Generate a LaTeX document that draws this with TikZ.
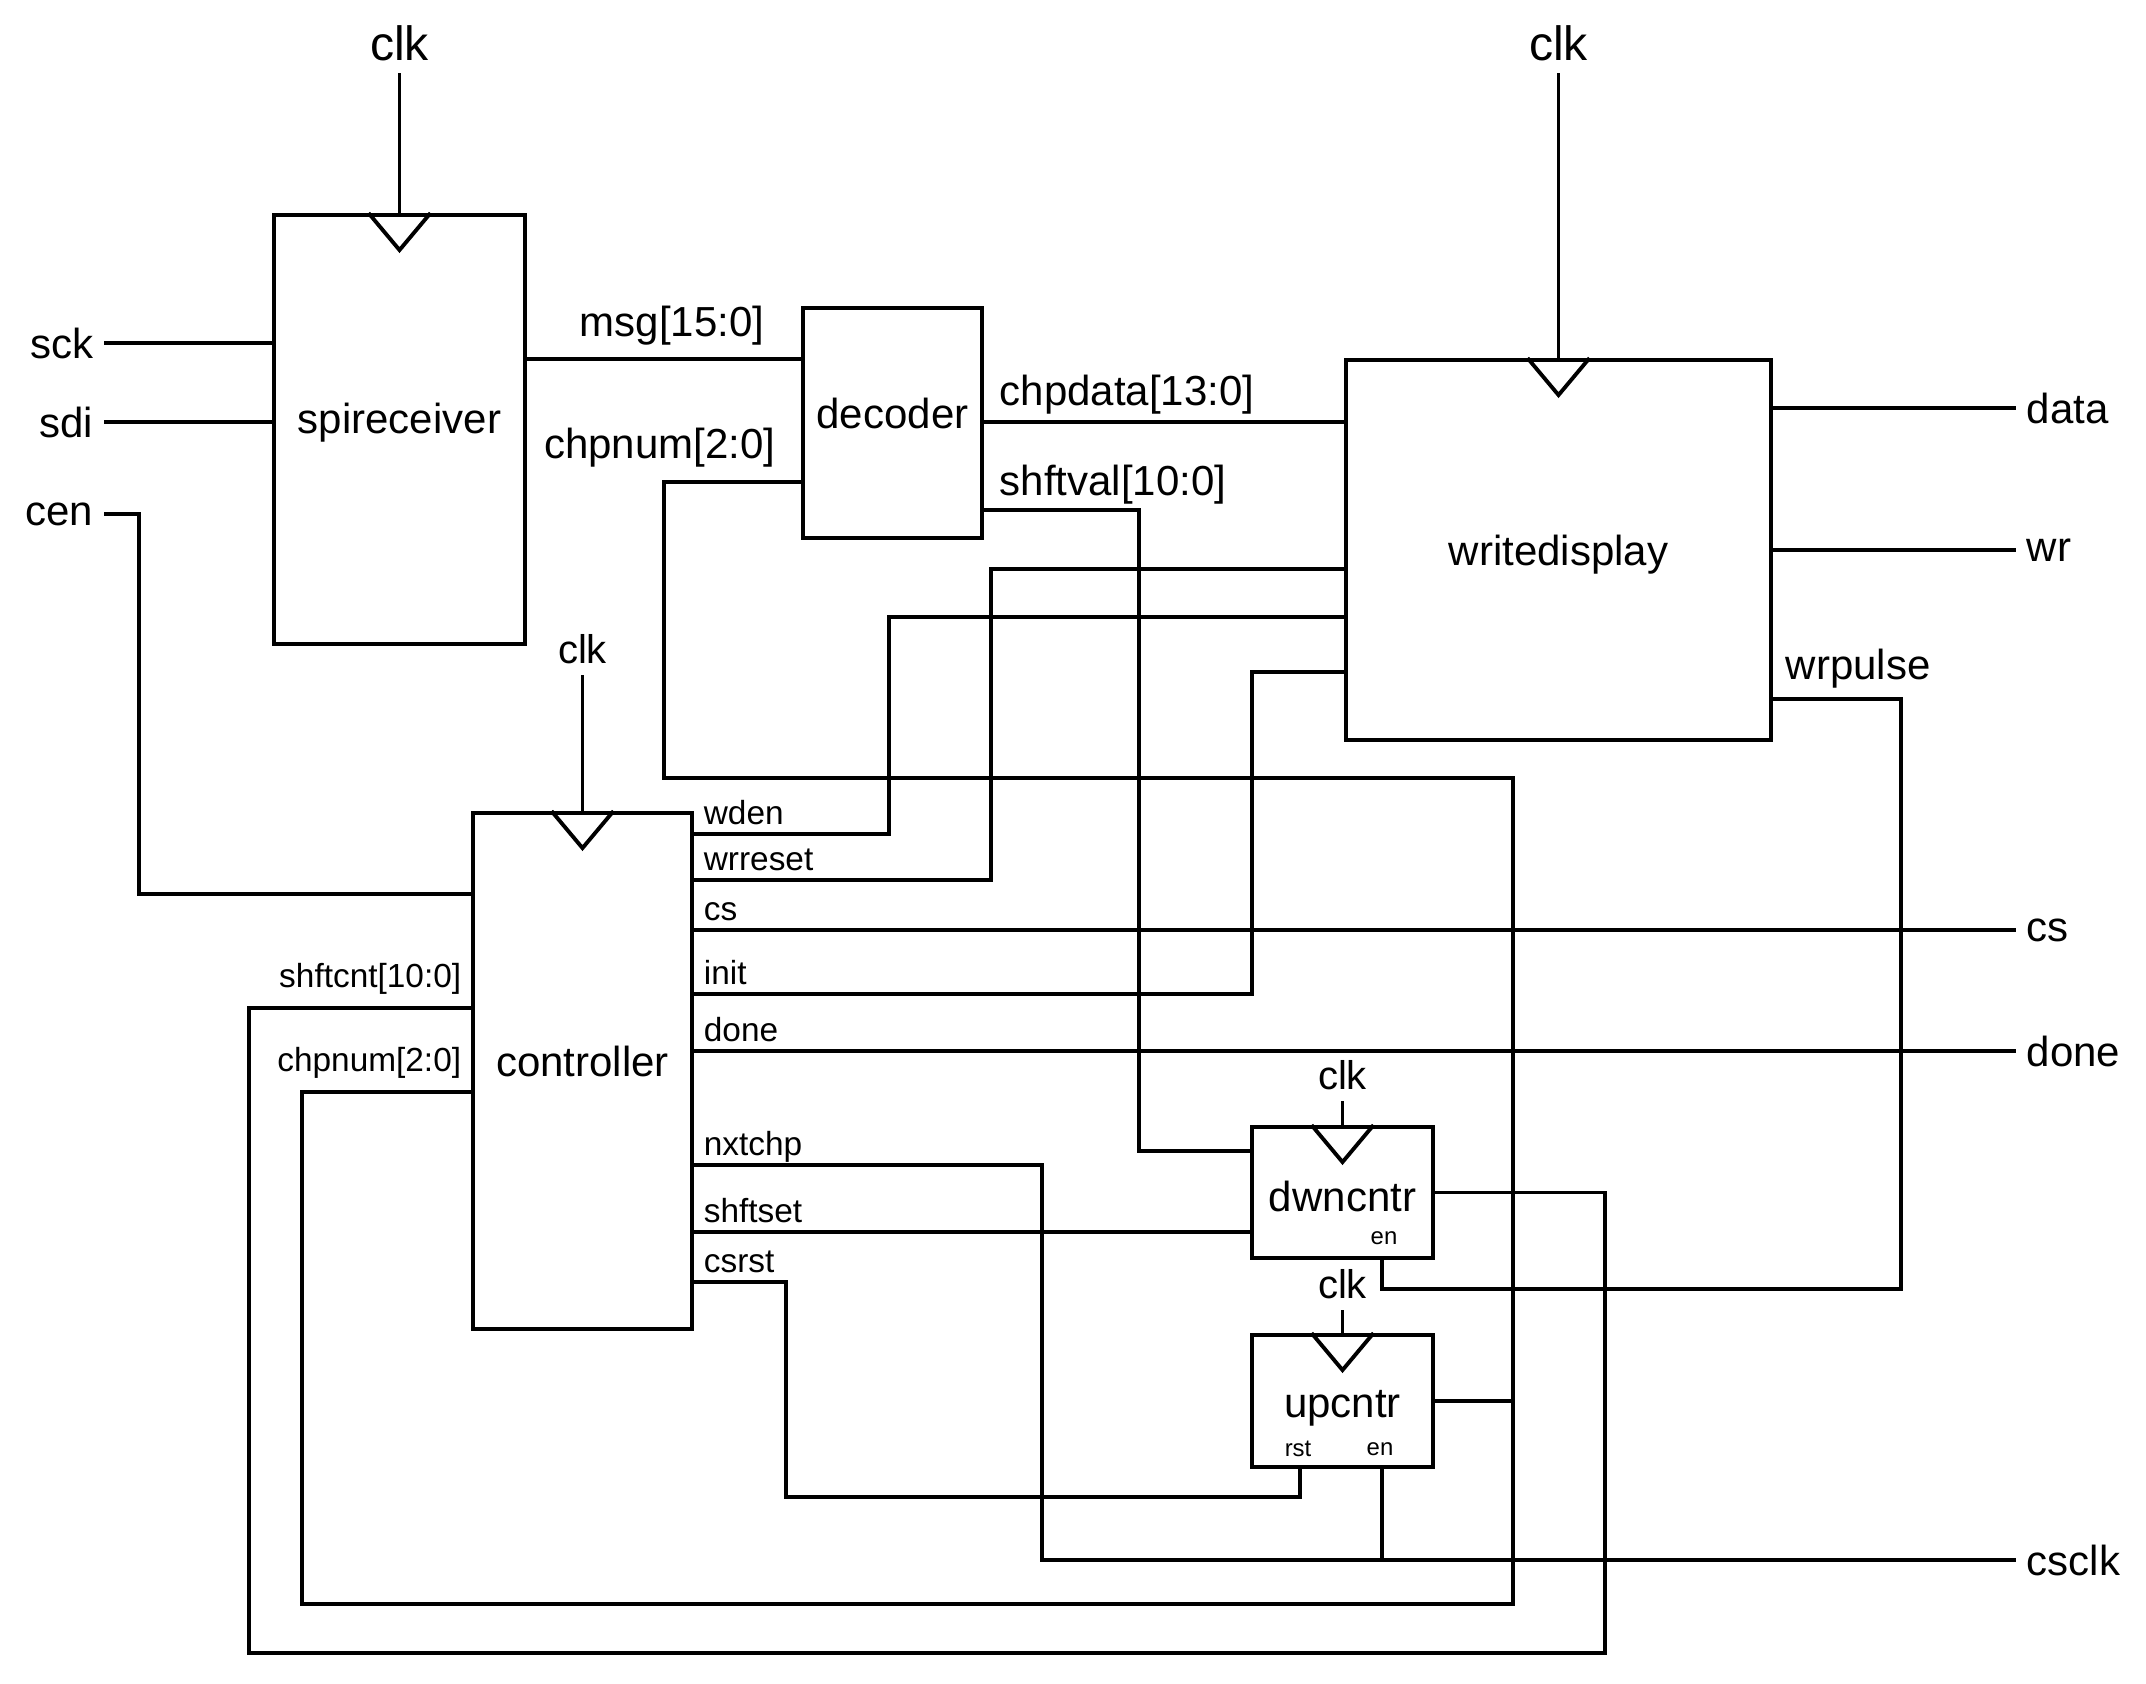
\documentclass[tikz,border=0pt]{standalone}
\usepackage{fontspec}
\setmainfont{Liberation Sans}
\usetikzlibrary{positioning}

\begin{document}
\begin{tikzpicture}[
  wire/.style={line width=1.1pt},
  blk/.style={rectangle,draw,line width=1.1pt,inner sep=0pt},
  blktxt/.style={font=\fontsize{11.95}{14}\selectfont,inner sep=0pt},
  io/.style={font=\fontsize{11.95}{14}\selectfont,inner sep=1mm},
  sig/.style={font=\fontsize{11.95}{14}\selectfont,inner sep=0pt},
  pin/.style={font=\fontsize{9.5}{11}\selectfont,inner sep=0pt},
  pinr/.style={pin,anchor=base west,xshift=0.8mm,yshift=1mm},
  pinl/.style={pin,anchor=base east,xshift=-0.8mm,yshift=2.1mm},
  clkbig/.style={font=\fontsize{13.7}{16}\selectfont},
  clksm/.style={font=\fontsize{11.4}{13}\selectfont,inner sep=1mm},
  tiny/.style={font=\fontsize{6.8}{8}\selectfont,inner sep=0pt},
]
  \useasboundingbox (0,0) rectangle (21.46,-16.84);

  % blocks
  \node[blk,minimum width=2.51cm,minimum height=4.29cm,
        label={[blktxt,yshift=0.7mm]center:spireceiver}] (spi)  at (3.995,-4.295) {};
  \node[blk,minimum width=1.79cm,minimum height=2.30cm,
        label={[blktxt,yshift=1mm]center:decoder}] (dec)  at (8.925,-4.23) {};
  \node[blk,minimum width=4.25cm,minimum height=3.80cm,
        label={[blktxt,yshift=-0.5mm]center:writedisplay}] (wd) at (15.585,-5.50) {};
  \node[blk,minimum width=2.19cm,minimum height=5.16cm,
        label={[blktxt,yshift=1mm]center:controller}] (ctrl) at (5.825,-10.71) {};
  \node[blk,minimum width=1.81cm,minimum height=1.31cm,
        label={[blktxt,yshift=-0.4mm]center:dwncntr}] (dwn) at (13.425,-11.925) {};
  \node[blk,minimum width=1.81cm,minimum height=1.32cm,
        label={[blktxt,yshift=-0.7mm]center:upcntr}] (up) at (13.425,-14.01) {};

  \node[tiny] at (13.84,-12.38) {en};
  \node[tiny] at (12.98,-14.49) {rst};
  \node[tiny] at (13.80,-14.49) {en};

  % clocks
  \node[clkbig,above=1.40cm of spi.north] (clkspi)  {clk};
  \node[clkbig,above=2.85cm of wd.north]  (clkwd)   {clk};
  \node[clksm,above=1.36cm of ctrl.north] (clkctrl) {clk};
  \node[clksm,above=0.24cm of dwn.north]  (clkdwn)  {clk};
  \node[clksm,above=0.23cm of up.north]   (clkup)   {clk};
  \foreach \b in {spi,wd,ctrl,dwn,up} {
    \draw[wire] (clk\b) -- (\b);
    \draw[wire] ([xshift=-3.1mm]\b.north) -- ([yshift=-3.7mm]\b.north) -- ([xshift=3.1mm]\b.north);
  }

  % ports
  \node[io,anchor=east] (sck)   at (1.04,-3.43)   {sck};
  \node[io,anchor=east] (sdi)   at (1.04,-4.22)   {sdi};
  \node[io,anchor=east] (cen)   at (1.04,-5.14)   {cen};
  \node[io,anchor=west] (data)  at (20.16,-4.08)  {data};
  \node[io,anchor=west] (wr)    at (20.16,-5.50)  {wr};
  \node[io,anchor=west] (cs)    at (20.16,-9.30)  {cs};
  \node[io,anchor=west] (done)  at (20.16,-10.51) {done};
  \node[io,anchor=west] (csclk) at (20.16,-15.60) {csclk};

  \draw[wire] (sck) -- (sck -| spi.west);
  \draw[wire] (sdi) -- (sdi -| spi.west);
  \draw[wire] (cen) -| (1.39,-8.94) -- (ctrl.west |- 0,-8.94);
  \draw[wire] (wd.east |- data) -- (data);
  \draw[wire] (wd.east |- wr) -- (wr);

  % spireceiver / decoder
  \draw[wire] (spi.east |- 0,-3.59) -- node[sig,anchor=base,xshift=0.8mm,yshift=2.2mm] {msg[15:0]} (dec.west |- 0,-3.59);
  \draw[wire] (dec.west |- 0,-4.82) node[sig,anchor=base east,xshift=-2.4mm,yshift=2.3mm] {chpnum[2:0]}
    -| (6.64,-7.78) -| (15.13,-16.04) -| (3.02,-10.92) -- (ctrl.west |- 0,-10.92) node[pinl] {chpnum[2:0]};
  \draw[wire] (dec.east |- 0,-4.22) node[sig,anchor=base west,xshift=1.4mm,yshift=1.6mm] {chpdata[13:0]}
    -- (wd.west |- 0,-4.22);
  \draw[wire] (dec.east |- 0,-5.10) node[sig,anchor=base west,xshift=1.4mm,yshift=1.4mm] {shftval[10:0]}
    -| (11.39,-11.51) -- (dwn.west |- 0,-11.51);

  % controller outputs
  \draw[wire] (ctrl.east |- 0,-8.34) node[pinr] {wden} -| (8.89,-6.17) -- (wd.west |- 0,-6.17);
  \draw[wire] (ctrl.east |- 0,-8.80) node[pinr] {wrreset} -| (9.91,-5.69) -- (wd.west |- 0,-5.69);
  \draw[wire] (ctrl.east |- cs) node[pinr] {cs} -- (cs);
  \draw[wire] (ctrl.east |- 0,-9.94) node[pinr] {init} -| (12.52,-6.72) -- (wd.west |- 0,-6.72);
  \draw[wire] (ctrl.east |- done) node[pinr] {done} -- (done);
  \draw[wire] (ctrl.east |- 0,-11.65) node[pinr] {nxtchp} -| (10.42,-15.60) -- (csclk);
  \draw[wire] (ctrl.east |- 0,-12.32) node[pinr] {shftset} -- (dwn.west |- 0,-12.32);
  \draw[wire] (ctrl.east |- 0,-12.82) node[pinr] {csrst} -| (7.86,-14.97) -| (up.south -| 13.00,0);

  % counters
  \draw[wire] (up.east) -- (up.east -| 15.13,0);
  \draw[wire] (up.south -| 13.82,0) -- (13.82,-15.60);
  \draw[wire] (wd.east |- 0,-6.99) node[sig,anchor=base west,xshift=1.1mm,yshift=2mm] {wrpulse}
    -| (19.01,-12.89) -| (dwn.south -| 13.82,0);
  \draw[wire] (dwn.east) -| (16.05,-16.53) -| (2.49,-10.08) -- (ctrl.west |- 0,-10.08) node[pinl] {shftcnt[10:0]};
\end{tikzpicture}
\end{document}
